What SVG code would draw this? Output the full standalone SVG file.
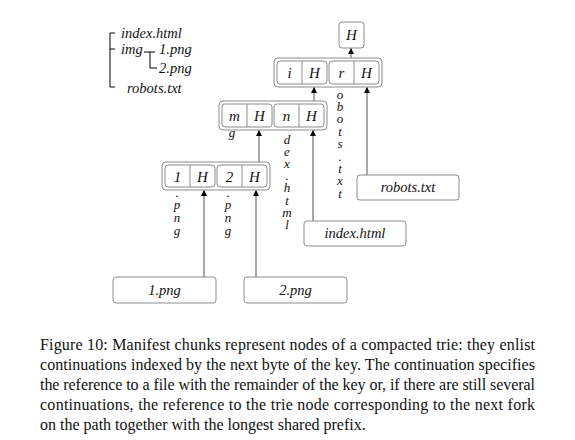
<svg xmlns="http://www.w3.org/2000/svg" width="575" height="440" viewBox="0 0 575 440">
<style>
  .bg { fill: #ffffff; }
  .box { fill: #ffffff; stroke: #8c8c8c; stroke-width: 1; }
  .cell { fill: #ffffff; stroke: #8c8c8c; stroke-width: 1; }
  .div { stroke: #8c8c8c; stroke-width: 1; }
  .conn { stroke: #6e6e6e; stroke-width: 1.2; fill: none; }
  .tree { stroke: #000000; stroke-width: 1; fill: none; }
  .it { font-family: "Liberation Serif", "DejaVu Serif", serif; font-style: italic; font-size: 14.5px; fill: #111111; }
  .big { font-size: 15px; }
  .c { text-anchor: middle; }
  .v { font-family: "Liberation Serif", "DejaVu Serif", serif; font-style: italic; font-size: 13px; fill: #111111; writing-mode: vertical-rl; text-orientation: upright; }
  .g { font-family: "Liberation Serif", "DejaVu Serif", serif; font-style: italic; font-size: 13px; fill: #111111; text-anchor: middle; }
  .cap { font-family: "Liberation Serif", "DejaVu Serif", serif; font-size: 16px; fill: #111111; }
</style>
<defs>
  <marker id="arr" viewBox="0 0 6 6" refX="6" refY="3" markerWidth="6" markerHeight="6" markerUnits="userSpaceOnUse" orient="auto">
    <path d="M0,0 L6,3 L0,6 Z" fill="#000000"/>
  </marker>
</defs>
<rect class="bg" x="0" y="0" width="575" height="440"/>

<g id="file-tree">
  <path class="tree" d="M115,33 H110 V87 H115 M110,49 H115"/>
  <path class="tree" d="M144,52 H155 M150,52 V68 H157"/>
  <text class="it" x="121" y="38">index.html</text>
  <text class="it" x="121" y="54">img</text>
  <text class="it" x="159" y="54">1.png</text>
  <text class="it" x="159" y="73">2.png</text>
  <text class="it" x="127" y="93">robots.txt</text>
</g>

<g id="connectors">
  <line class="conn" x1="351" y1="58" x2="351" y2="48" marker-end="url(#arr)"/>
  <line class="conn" x1="314" y1="101" x2="314" y2="87" marker-end="url(#arr)"/>
  <line class="conn" x1="367" y1="175" x2="367" y2="87" marker-end="url(#arr)"/>
  <line class="conn" x1="259" y1="162" x2="259" y2="130" marker-end="url(#arr)"/>
  <line class="conn" x1="313" y1="221" x2="313" y2="130" marker-end="url(#arr)"/>
  <line class="conn" x1="204" y1="277" x2="204" y2="190" marker-end="url(#arr)"/>
  <line class="conn" x1="256" y1="277" x2="256" y2="190" marker-end="url(#arr)"/>
</g>

<g id="root-H">
  <rect class="box" x="339" y="22" width="25" height="26" rx="3"/>
  <text class="it big c" x="351.5" y="40">H</text>
</g>

<g id="node-top">
  <rect class="box" x="274" y="58" width="108" height="29" rx="4"/>
  <rect class="cell" x="277" y="61" width="50" height="23" rx="3"/>
  <rect class="cell" x="329" y="61" width="50" height="23" rx="3"/>
  <line class="div" x1="302" y1="61" x2="302" y2="84"/>
  <line class="div" x1="354" y1="61" x2="354" y2="84"/>
  <text class="it big c" x="289.5" y="78">i</text>
  <text class="it big c" x="314.5" y="78">H</text>
  <text class="it big c" x="341.5" y="78">r</text>
  <text class="it big c" x="366.5" y="78">H</text>
</g>

<g id="node-middle">
  <rect class="box" x="219" y="101" width="108" height="29" rx="4"/>
  <rect class="cell" x="222" y="104" width="50" height="23" rx="3"/>
  <rect class="cell" x="274" y="104" width="50" height="23" rx="3"/>
  <line class="div" x1="247" y1="104" x2="247" y2="127"/>
  <line class="div" x1="299" y1="104" x2="299" y2="127"/>
  <text class="it big c" x="234.5" y="121">m</text>
  <text class="it big c" x="259.5" y="121">H</text>
  <text class="it big c" x="286.5" y="121">n</text>
  <text class="it big c" x="311.5" y="121">H</text>
</g>

<g id="node-bottom">
  <rect class="box" x="162" y="162" width="108" height="28" rx="4"/>
  <rect class="cell" x="165" y="165" width="50" height="22" rx="3"/>
  <rect class="cell" x="217" y="165" width="50" height="22" rx="3"/>
  <line class="div" x1="190" y1="165" x2="190" y2="187"/>
  <line class="div" x1="242" y1="165" x2="242" y2="187"/>
  <text class="it big c" x="177.5" y="181.5">1</text>
  <text class="it big c" x="202.5" y="181.5">H</text>
  <text class="it big c" x="229.5" y="181.5">2</text>
  <text class="it big c" x="254.5" y="181.5">H</text>
</g>

<g id="leaf-robots">
  <rect class="box" x="357" y="175" width="102" height="25" rx="3"/>
  <text class="it c" x="408" y="192">robots.txt</text>
</g>
<g id="leaf-index">
  <rect class="box" x="304" y="221" width="102" height="25" rx="3"/>
  <text class="it c" x="355" y="238">index.html</text>
</g>
<g id="leaf-1png">
  <rect class="box" x="113" y="277" width="103" height="26" rx="3"/>
  <text class="it c" x="164.5" y="295">1.png</text>
</g>
<g id="leaf-2png">
  <rect class="box" x="244" y="277" width="103" height="26" rx="3"/>
  <text class="it c" x="295.5" y="295">2.png</text>
</g>

<g id="edge-labels">
  <text class="v" x="340" y="86.5" letter-spacing="-2.6">obots.txt</text>
  <text class="v" x="287" y="131.5" letter-spacing="-2.8">dex.html</text>
  <text class="g" x="232" y="137">g</text>
  <text class="v" x="177" y="184.5" letter-spacing="-2.1">.png</text>
  <text class="v" x="228" y="184.5" letter-spacing="-2.1">.png</text>
</g>

<g id="caption">
  <text class="cap" x="40" y="350" textLength="495" lengthAdjust="spacing">Figure 10: Manifest chunks represent nodes of a compacted trie: they enlist</text>
  <text class="cap" x="40" y="370" textLength="495" lengthAdjust="spacing">continuations indexed by the next byte of the key. The continuation specifies</text>
  <text class="cap" x="40" y="390" textLength="495" lengthAdjust="spacing">the reference to a file with the remainder of the key or, if there are still several</text>
  <text class="cap" x="40" y="410" textLength="495" lengthAdjust="spacing">continuations, the reference to the trie node corresponding to the next fork</text>
  <text class="cap" x="40" y="430">on the path together with the longest shared prefix.</text>
</g>
</svg>
